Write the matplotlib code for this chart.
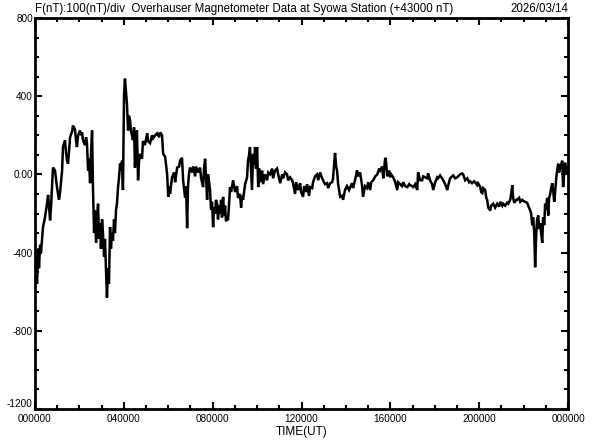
import matplotlib
matplotlib.use("Agg")
import matplotlib.pyplot as plt
from matplotlib.ticker import MultipleLocator, FixedLocator

# time (hours UT) and F deviation (nT, relative to 43000 nT)
hours = [0.00, 0.05, 0.09, 0.14, 0.18, 0.23, 0.27, 0.36, 0.45, 0.54, 0.59, 0.63, 0.68, 0.72, 0.77, 0.81, 0.90, 0.99,
         1.08, 1.13, 1.22, 1.26, 1.35, 1.40, 1.44, 1.49, 1.58, 1.67, 1.71, 1.80, 1.85, 1.89, 1.94, 2.03, 2.07, 2.12,
         2.16, 2.25, 2.30, 2.34, 2.39, 2.43, 2.48, 2.52, 2.57, 2.61, 2.66, 2.70, 2.75, 2.79, 2.84, 2.88, 2.93, 2.97,
         3.02, 3.06, 3.11, 3.15, 3.20, 3.24, 3.29, 3.33, 3.38, 3.42, 3.47, 3.51, 3.56, 3.60, 3.65, 3.69, 3.74, 3.78,
         3.83, 3.87, 3.92, 3.96, 4.01, 4.05, 4.10, 4.14, 4.19, 4.23, 4.28, 4.32, 4.37, 4.41, 4.46, 4.50, 4.55, 4.59,
         4.64, 4.68, 4.73, 4.82, 4.86, 4.95, 5.05, 5.09, 5.18, 5.27, 5.32, 5.41, 5.50, 5.59, 5.63, 5.72, 5.77, 5.86,
         5.95, 6.00, 6.04, 6.08, 6.17, 6.26, 6.31, 6.40, 6.49, 6.53, 6.62, 6.67, 6.76, 6.80, 6.85, 6.89, 6.94, 6.98,
         7.07, 7.12, 7.21, 7.25, 7.34, 7.43, 7.48, 7.57, 7.61, 7.66, 7.70, 7.75, 7.79, 7.84, 7.88, 7.93, 7.97, 8.02,
         8.06, 8.11, 8.15, 8.20, 8.24, 8.29, 8.33, 8.38, 8.42, 8.47, 8.51, 8.56, 8.60, 8.65, 8.69, 8.74, 8.78, 8.83,
         8.92, 9.01, 9.10, 9.14, 9.23, 9.28, 9.32, 9.37, 9.46, 9.55, 9.59, 9.64, 9.68, 9.73, 9.77, 9.82, 9.86, 9.91,
         9.95, 10.00, 10.05, 10.09, 10.14, 10.23, 10.27, 10.36, 10.45, 10.50, 10.59, 10.68, 10.72, 10.81, 10.90,
         10.95, 11.04, 11.13, 11.17, 11.26, 11.35, 11.40, 11.49, 11.58, 11.62, 11.71, 11.76, 11.85, 11.94, 11.98,
         12.07, 12.12, 12.21, 12.25, 12.34, 12.39, 12.48, 12.52, 12.61, 12.70, 12.75, 12.84, 12.93, 12.97, 13.06,
         13.15, 13.20, 13.29, 13.38, 13.42, 13.47, 13.51, 13.56, 13.60, 13.65, 13.74, 13.83, 13.87, 13.96, 14.05,
         14.14, 14.19, 14.28, 14.32, 14.41, 14.50, 14.55, 14.64, 14.73, 14.77, 14.86, 14.95, 15.00, 15.09, 15.14,
         15.23, 15.32, 15.41, 15.50, 15.54, 15.63, 15.68, 15.77, 15.81, 15.86, 15.95, 15.99, 16.04, 16.13, 16.22,
         16.31, 16.35, 16.44, 16.53, 16.58, 16.67, 16.76, 16.85, 16.89, 16.98, 17.03, 17.12, 17.21, 17.25, 17.34,
         17.43, 17.48, 17.57, 17.66, 17.70, 17.79, 17.88, 17.93, 18.02, 18.11, 18.15, 18.24, 18.33, 18.38, 18.47,
         18.56, 18.60, 18.69, 18.78, 18.83, 18.92, 19.01, 19.10, 19.14, 19.23, 19.28, 19.37, 19.46, 19.55, 19.59,
         19.68, 19.77, 19.82, 19.91, 19.95, 20.05, 20.09, 20.14, 20.18, 20.27, 20.32, 20.36, 20.41, 20.50, 20.54,
         20.63, 20.72, 20.81, 20.90, 20.95, 21.04, 21.08, 21.17, 21.26, 21.31, 21.40, 21.44, 21.49, 21.53, 21.58,
         21.67, 21.71, 21.80, 21.85, 21.94, 21.98, 22.07, 22.16, 22.21, 22.30, 22.34, 22.39, 22.43, 22.48, 22.52,
         22.57, 22.61, 22.66, 22.70, 22.75, 22.79, 22.84, 22.88, 22.93, 22.97, 23.02, 23.06, 23.11, 23.15, 23.20,
         23.24, 23.29, 23.33, 23.38, 23.42, 23.47, 23.51, 23.56, 23.60, 23.65, 23.69, 23.74, 23.78, 23.83, 23.87,
         23.92, 23.96, 24.00]

f_nT = [-540, -420, -560, -380, -480, -360, -400, -270, -220, -150, -105, -160, -235, -170, -60, 35, 20, -65,
        -130, -90, 20, 140, 175, 110, 70, 55, 190, 220, 250, 230, 170, 140, 200, 225, 200, 215,
        175, 150, 190, 160, 20, 80, -45, 100, 225, -65, -300, -185, -350, -230, -150, -330, -250, -380,
        -230, -300, -420, -330, -500, -630, -480, -560, -270, -380, -300, -340, -230, -300, -180, -150, -65, -20,
        55, 20, 70, -80, 410, 490, 420, 360, 225, 300, 275, 220, 200, 175, 240, 35, 160, 225,
        -30, 60, 105, 80, 170, 150, 210, 170, 160, 200, 185, 200, 210, 190, 215, 200, 105, 90,
        0, -115, -60, -100, -15, 10, -40, 35, 40, 70, 85, -30, -120, -60, -275, -60, 10, 35,
        10, 40, -10, 40, 10, 35, -20, -65, 30, 80, -10, -130, 0, -40, -80, -180, -140, -270,
        -170, -200, -130, -150, -230, -160, -200, -130, -220, -115, -210, -160, -240, -220, -235, -150, -65, -90,
        -30, -90, -60, -120, -100, -170, -110, -130, -50, -15, 70, 100, 140, 20, -80, 105, 50, 140,
        30, 140, -65, 30, -40, 20, -50, 0, -30, 10, 0, 30, -20, 20, 30,
        0, -45, 0, -20, 10, 0, -30, -15, -30, -45, -100, -40, -80, -45, -90,
        -115, -60, -90, -50, -110, -65, -70, -40, -10, 0, -30, 10, -20, -30, -50,
        -45, -70, -45, -40, -20, 50, 110, 40, 20, -50, -115, -110, -130, -80, -60,
        -80, -65, -45, -70, -30, 20, -10, 10, -60, -115, -60, -70, -40, -80, -40,
        -30, -10, 0, 30, 20, 40, -20, 85, 60, -10, 20, -15, 0, -15, -40,
        -80, -40, -50, -60, -40, -60, -65, -50, -55, -60, -65, -50, -80, 10, -30,
        -30, -10, -15, -20, 5, -30, -50, -80, -40, -15, -20, -5, -20, -30, -50,
        -80, -60, -20, -10, -5, -20, -15, -5, 0, 5, 0, -30, -20, -40, -35,
        -45, -35, -40, -55, -45, -65, -90, -95, -70, -80, -120, -130, -170, -185, -160,
        -150, -170, -150, -165, -140, -160, -150, -160, -145, -150, -130, -100, -55, -120, -145,
        -130, -130, -120, -140, -130, -135, -140, -145, -160, -185, -200, -260, -220, -300, -475,
        -300, -230, -210, -280, -250, -300, -350, -220, -260, -150, -180, -120, -210, -120, -100,
        -70, -45, -80, -140, -90, -20, 20, 55, 10, 40, 50, 70, -65, 10, 60,
        0, 40, 20]

x_major = [0, 4, 8, 12, 16, 20, 24]
x_labels = ["000000", "040000", "080000", "120000", "160000", "200000", "000000"]
y_major = [-1200, -800, -400, 0, 400, 800]
y_labels = ["-1200", "-800", "-400", "0.00", "400", "800"]

title_left = "F(nT):100(nT)/div  Overhauser Magnetometer Data at Syowa Station (+43000 nT)"
title_right = "2026/03/14"
xlabel = "TIME(UT)"

plt.rcParams['font.family'] = ['Liberation Sans', 'DejaVu Sans']

fig = plt.figure(figsize=(5.92, 4.40), dpi=100)
ax = fig.add_axes([35 / 592, 31 / 440, 533 / 592, 391 / 440])

ax.plot(hours, f_nT, color="black", linewidth=1.8, solid_joinstyle="miter")

ax.set_xlim(0, 24)
ax.set_ylim(-1200, 800)

ax.xaxis.set_major_locator(FixedLocator(x_major))
ax.set_xticklabels(x_labels)
ax.xaxis.set_minor_locator(MultipleLocator(1))
ax.yaxis.set_major_locator(FixedLocator(y_major))
ax.set_yticklabels(y_labels)
ax.yaxis.set_minor_locator(MultipleLocator(100))

ax.tick_params(which="both", direction="in", top=True, right=True, width=1.5, color="black",
               labelsize=7.2, labelcolor="black")
ax.tick_params(which="major", length=5)
ax.tick_params(which="minor", length=3)
ax.tick_params(axis="x", which="major", pad=3.5)
ax.tick_params(axis="y", which="major", pad=1.5)

# nudge the bottom y label up a little so it does not touch the x labels
ylab = ax.get_yticklabels()
ylab[0].set_verticalalignment("bottom")

for s in ax.spines.values():
    s.set_linewidth(2)
    s.set_color("black")

ax.set_xlabel(xlabel, fontsize=8.5, labelpad=1.5)
ax.text(0.0, 1.008, title_left, transform=ax.transAxes, ha="left", va="bottom", fontsize=8.3)
ax.text(1.0, 1.008, title_right, transform=ax.transAxes, ha="right", va="bottom", fontsize=8.3)

fig.savefig("out.png", dpi=100, facecolor="white")
